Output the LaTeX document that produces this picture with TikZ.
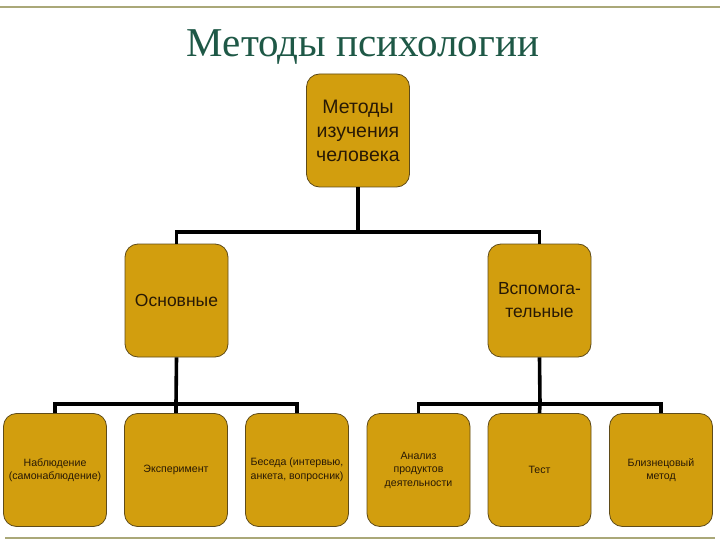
\documentclass[tikz,border=0pt]{standalone}
\usepackage{fontspec}
\setmainfont{Liberation Sans}
\newfontfamily\titlefont{Liberation Serif}
\definecolor{boxfill}{RGB}{210,158,14}
\definecolor{boxedge}{RGB}{95,75,25}
\definecolor{titlegreen}{RGB}{30,88,70}
\definecolor{rulecol}{RGB}{170,168,120}
\definecolor{txtcol}{RGB}{40,25,5}
\begin{document}
\begin{tikzpicture}[x=1pt,y=-1pt,
  gbox/.style={draw=boxedge,line width=0.8pt,fill=boxfill,rounded corners=13pt,
    minimum width=103pt,minimum height=113pt,inner sep=1pt,align=center,text=txtcol},
  bigtxt/.style={font=\fontsize{19.5}{24}\selectfont},
  midtxt/.style={font=\fontsize{17.5}{23}\selectfont},
  smalltxt/.style={font=\fontsize{10.6}{13.5}\selectfont},
  conn/.style={line width=3.6pt,black}]
\useasboundingbox (0,0) rectangle (720,540);
\fill[white] (0,0) rectangle (720,540);
\draw[rulecol,line width=2pt] (0,7) -- (720,7);
\draw[rulecol,line width=1.6pt] (5,538) -- (715,538);
\node[text=titlegreen,font=\titlefont\fontsize{41}{41}\selectfont,anchor=base] (title) at (363,57) {Методы психологии};
% boxes
\node[gbox,bigtxt] (top) at (358,130.5) {Методы\\изучения\\человека};
\node[gbox,midtxt] (osn) at (176.5,300.5) {Основные};
\node[gbox,midtxt] (vsp) at (539.5,300.5) {Вспомога-\\тельные};
\node[gbox,smalltxt] (b1) at (55,470) {Наблюдение\\(самонаблюдение)};
\node[gbox,smalltxt] (b2) at (176,470) {Эксперимент};
\node[gbox,smalltxt] (b3) at (297,470) {Беседа (интервью,\\анкета, вопросник)};
\node[gbox,smalltxt] (b4) at (418.5,470) {Анализ\\продуктов\\деятельности};
\node[gbox,smalltxt] (b5) at (539.5,470) {Тест};
\node[gbox,smalltxt] (b6) at (661,470) {Близнецовый\\метод};
% connectors
\coordinate (j0) at (358,232);
\coordinate (j1) at (176,404);
\coordinate (j2) at (540,404);
\draw[conn] (top.south) -- (j0);
\draw[conn] (osn.north) |- (j0) -| (vsp.north);
\draw[conn] (osn.south) -- (j1);
\draw[conn] (b1.north) |- (j1) -| (b3.north);
\draw[conn] (j1) -- (b2.north);
\draw[conn] (vsp.south) -- (j2);
\draw[conn] (b4.north) |- (j2) -| (b6.north);
\draw[conn] (j2) -- (b5.north);
\end{tikzpicture}
\end{document}
